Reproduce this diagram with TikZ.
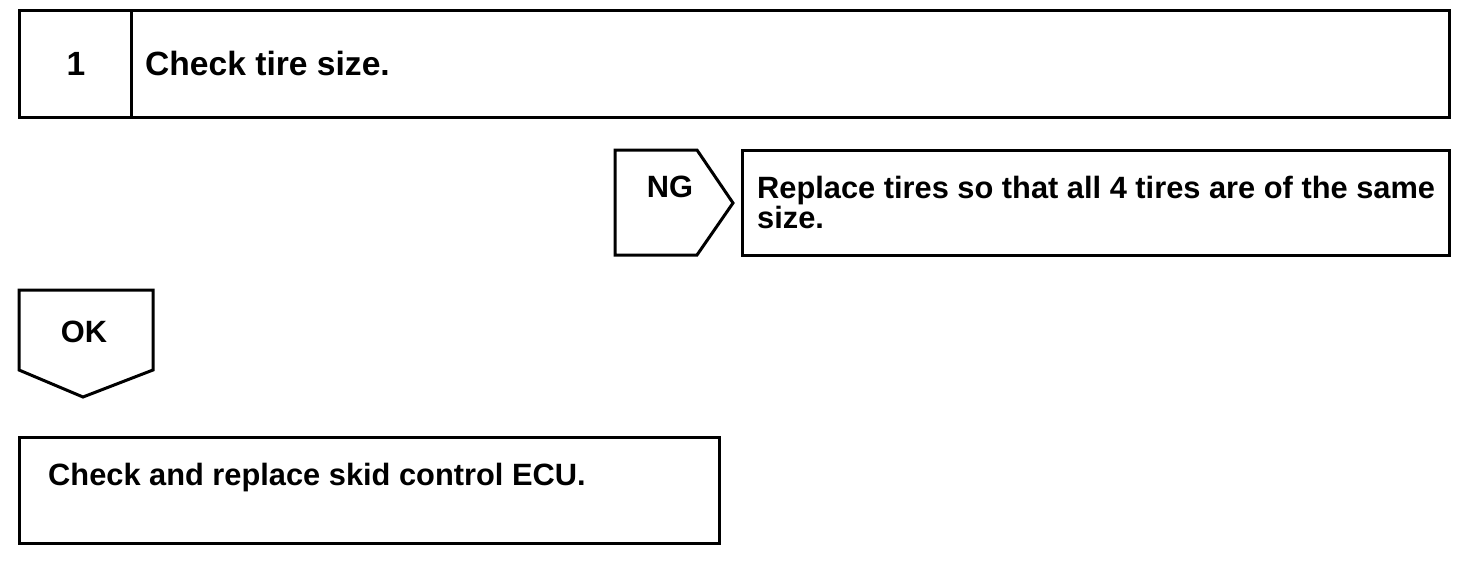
\documentclass[tikz,border=0pt]{standalone}
\usepackage{fontspec}
\setmainfont{Liberation Sans}
\begin{document}
\begin{tikzpicture}[x=1pt,y=-1pt,
  box/.style={draw=black,line width=3pt},
  lbl/.style={font=\bfseries\fontsize{30.8}{30}\selectfont,inner sep=0pt},
  ttl/.style={font=\bfseries\fontsize{33.6}{36}\selectfont,inner sep=0pt}]
\useasboundingbox (0,0) rectangle (1472,576);
% step 1
\draw[box] (19,10) rectangle (1449,117);
\draw[box] (131,10) -- (131,117);
\node[ttl,anchor=base] (n1) at (76,75) {1};
\node[ttl,anchor=base west] (t1) at (145,75) {Check tire size.};
% NG
\draw[box] (615,150) -- (697,150) -- (733,203) -- (697,255) -- (615,255) -- cycle;
\node[lbl,anchor=base] (ng) at (670,197) {NG};
\draw[box] (742,150) rectangle (1449,255);
\node[lbl,anchor=north west,align=left] (rep) at (757,175.5) {Replace tires so that all 4 tires are of the same\\size.};
% OK
\draw[box] (19,290) -- (153,290) -- (153,370) -- (83,397) -- (19,370) -- cycle;
\node[lbl,anchor=base] (ok) at (84,342) {OK};
\draw[box] (19,437) rectangle (719,543);
\node[lbl,anchor=base west] (ecu) at (48,485) {Check and replace skid control ECU.};
\end{tikzpicture}
\end{document}
